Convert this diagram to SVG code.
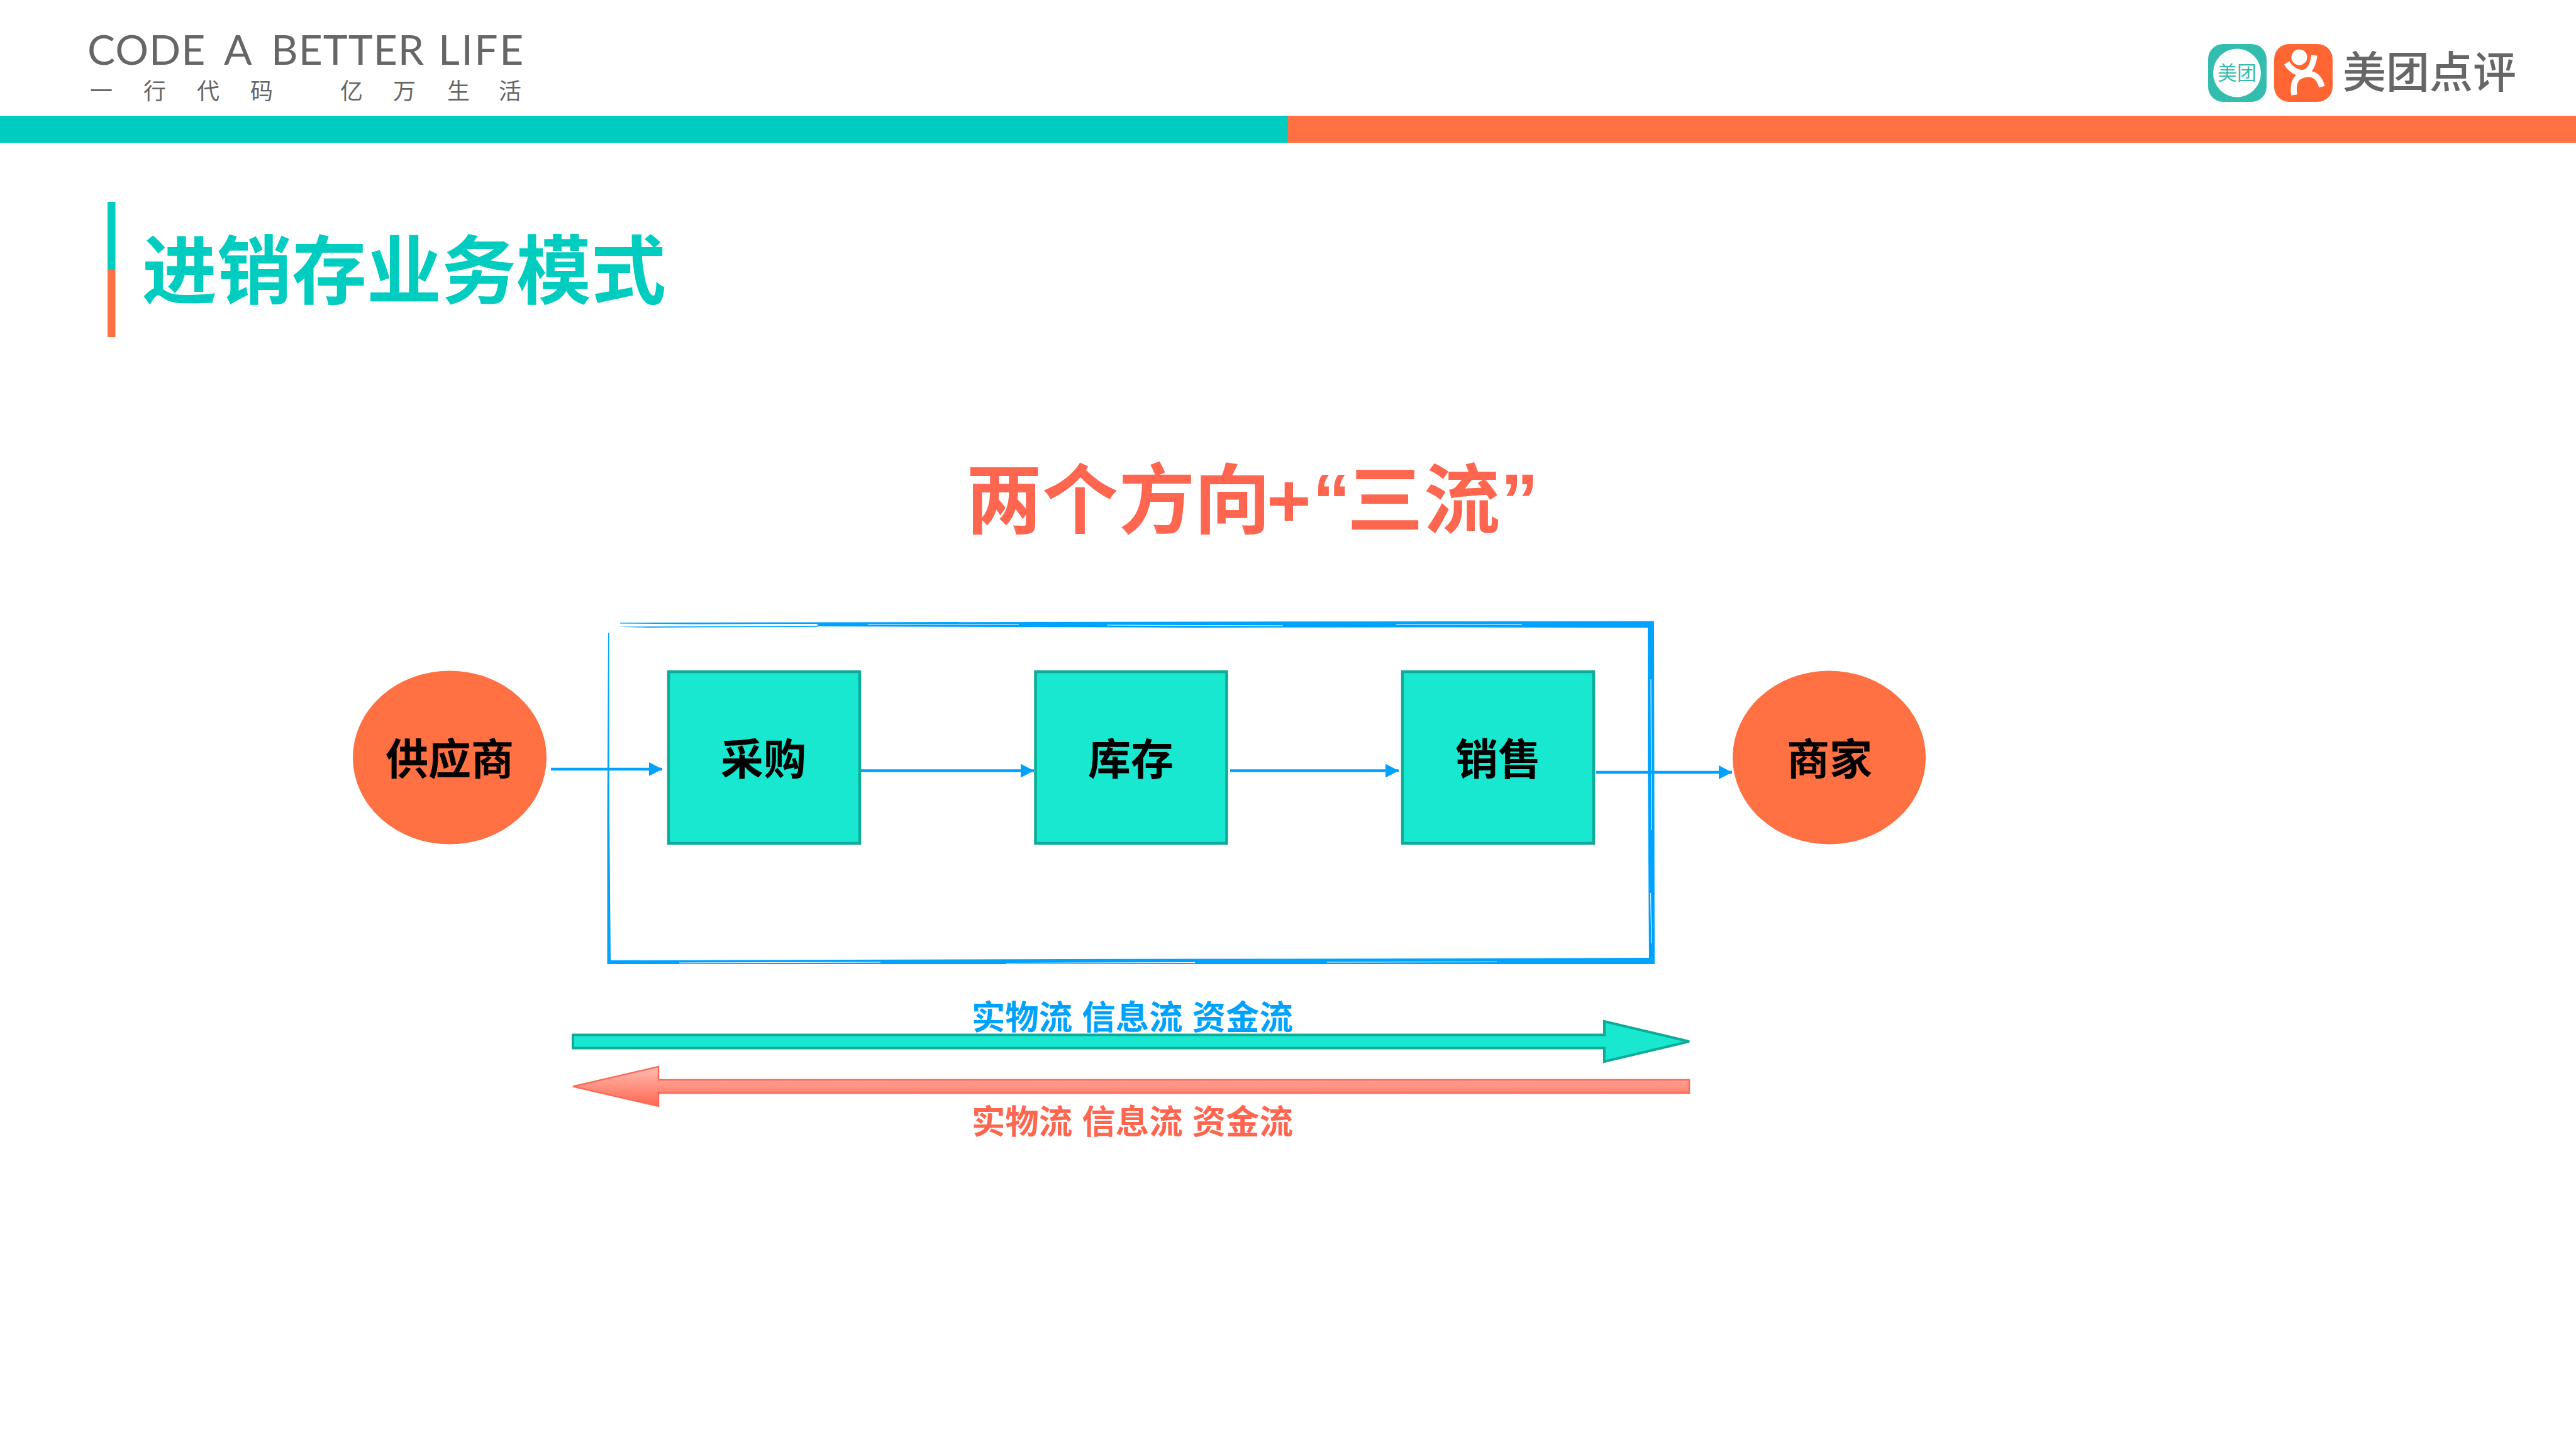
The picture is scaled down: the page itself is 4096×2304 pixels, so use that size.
<svg xmlns="http://www.w3.org/2000/svg" width="4096" height="2304" viewBox="0 0 4096 2304">
<style>
text{font-family:"Liberation Sans","Noto Sans CJK SC",sans-serif}
.cjk{font-family:"Noto Sans CJK SC",sans-serif}
.node{font-size:68px;font-weight:700;fill:#000;text-anchor:middle}
.flow{font-size:53.500px;font-weight:700;text-anchor:middle}
.box{fill:#17e8cf;stroke:#10ab98;stroke-width:4.5}
.oval{fill:#ff7043}
.link{stroke:#00a2ff;stroke-width:4.5;fill:none;marker-end:url(#head)}
.sk{fill:#00a2ff}
</style>
<defs>
<marker id="head" markerUnits="userSpaceOnUse" markerWidth="21" markerHeight="22" refX="21" refY="11" orient="auto"><path d="M0 0L21 11L0 22Z" fill="#00a2ff"/></marker>
<linearGradient id="red" x1="0" y1="0" x2="0" y2="1"><stop offset="0" stop-color="#ffbdb3"/><stop offset="1" stop-color="#ff6650"/></linearGradient>
</defs>
<rect width="4096" height="2304" fill="#fff"/>
<g id="header">
<rect x="0" y="184" width="2048" height="43" fill="#00ccc0"/>
<rect x="2048" y="184" width="2048" height="43" fill="#ff7043"/>
<text y="103" font-size="66" style="font-family:Lato,sans-serif" fill="#666"><tspan x="139" letter-spacing="1">CODE</tspan> <tspan x="356">A</tspan> <tspan x="431" letter-spacing="1">BETTER</tspan> <tspan x="697" letter-spacing="2.500">LIFE</tspan></text>
<text class="cjk" y="158" font-size="36" fill="#666" x="143 228 313 398 541 625 711 793">一行代码亿万生活</text>
</g>
<g id="logo">
<rect x="3511" y="70" width="93" height="92" rx="24" fill="#33bdae"/>
<ellipse cx="3557" cy="116" rx="38" ry="38.500" fill="#fff"/>
<text class="cjk" x="3557" y="127" font-size="31" fill="#33bdae" text-anchor="middle">美团</text>
<rect x="3616" y="70" width="93" height="92" rx="24" fill="#ff6633"/>
<ellipse cx="3656" cy="91" rx="12.500" ry="12.500" fill="#fff"/>
<path d="M3636 100Q3645 115 3660 116Q3676 116 3680 88M3648 151Q3643 120 3668 118Q3686 116 3692 138" fill="none" stroke="#fff" stroke-width="9.500"/>
<text class="cjk" x="3725" y="140" font-size="69" font-weight="500" fill="#666">美团点评</text>
</g>
<g id="title">
<rect x="171" y="321" width="12.500" height="107" fill="#00ccc0"/>
<rect x="171" y="428" width="12.500" height="108" fill="#ff7043"/>
<text class="cjk" x="226" y="474" font-size="119" font-weight="700" fill="#00ccc0">进销存业务模式</text>
</g>
<text id="heading" x="1536 1657 1779 1899 2014 2087 2142 2264 2386" y="838" font-size="121" font-weight="700" fill="#ff6650">两个方向+“三流”</text>
<g id="frame">
<path class="sk" d="M1300 989.500L1900 988.500L2300 988L2630 987.500L2631 1533L1700 1533L1000 1533L965.500 1533L965.500 1300L967 1006L968.500 1006L969 1300L971 1527L1700 1525L2300 1524L2622 1523L2620 1200L2620 998L2300 997.500L1900 998L1300 996Z"/>
<path class="sk" d="M986 990L1300 989.500L1300 992L1100 992.500L986 991.500ZM980 996.500L1300 995L1300 996.800L1100 997.500L1030 998Z"/>
<path d="M1380 992.500L1620 993.500M1760 994L2040 995M2220 993L2420 992.500M1080 1531L1400 1530M1600 1531.500L1900 1530.500M2110 1530L2380 1529.500M2625 1080L2626 1320M2624.500 1420L2626 1500" fill="none" stroke="#fff" stroke-width="1"/>
</g>
<g id="connectors">
<path class="link" d="M876 1223H1053"/>
<path class="link" d="M1369 1225.500H1644"/>
<path class="link" d="M1956 1225.500H2224"/>
<path class="link" d="M2538 1228H2754"/>
</g>
<g id="supplier"><ellipse class="oval" cx="715" cy="1204.500" rx="154" ry="138"/><text class="node" x="715" y="1232">供应商</text></g>
<g id="purchase"><rect class="box" x="1063" y="1068" width="304" height="273"/><text class="node" x="1214" y="1232">采购</text></g>
<g id="stock"><rect class="box" x="1646.500" y="1068" width="304" height="273"/><text class="node" x="1798" y="1232">库存</text></g>
<g id="sales"><rect class="box" x="2230" y="1068" width="304" height="273"/><text class="node" x="2382" y="1232">销售</text></g>
<g id="merchant"><ellipse class="oval" cx="2908.500" cy="1204.500" rx="153.500" ry="138"/><text class="node" x="2909" y="1232">商家</text></g>
<g id="forward">
<path d="M911 1645.500H2551V1624L2686 1656L2551 1688V1666.500H911Z" fill="#17e8cf" stroke="#10ab98" stroke-width="4"/>
<text class="flow" x="1800.500" y="1637" fill="#00a2ff">实物流 信息流 资金流</text>
</g>
<g id="backward">
<path d="M2686 1717V1738H1047V1759L911 1727.500L1047 1696V1717Z" fill="url(#red)" stroke="#ff6a55" stroke-width="2.500"/>
<text class="flow" x="1800.500" y="1803" fill="#ff6650">实物流 信息流 资金流</text>
</g>
</svg>
